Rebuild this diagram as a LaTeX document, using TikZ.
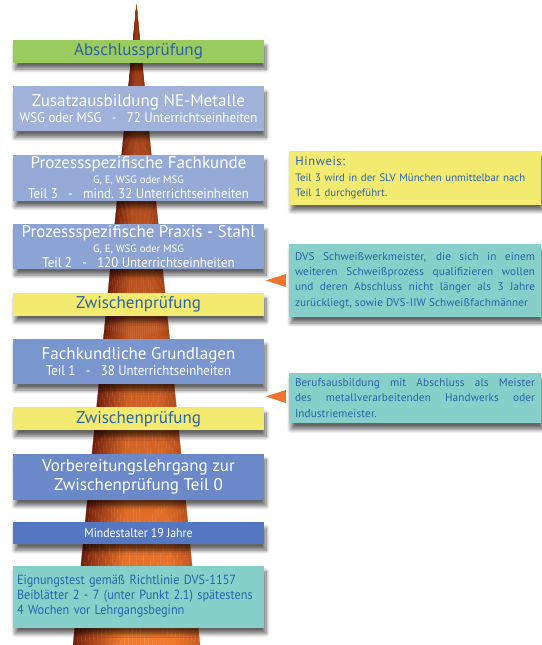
\documentclass[tikz,border=0pt]{standalone}
\usepackage{fontspec}
\setmainfont{PT Sans}
\newfontfamily\semifont[FakeStretch=0.92]{PT Sans}
\newfontfamily\headfamily[LetterSpace=5]{PT Sans}
\newfontfamily\widefamily[LetterSpace=1]{PT Sans}
\usetikzlibrary{
	positioning,
	calc,
	fadings,
	shadows.blur
}
\definecolor{examGreen}{HTML}{9BCB5F}
\definecolor{examYellow}{HTML}{F3EB70}
\definecolor{noteTeal}{HTML}{86D0C9}
\definecolor{textBlue}{HTML}{2B62AC}
\definecolor{stageA}{HTML}{A0B2DA}
\definecolor{stageB}{HTML}{95AAD7}
\definecolor{stageC}{HTML}{8CA3D3}
\definecolor{stageD}{HTML}{7A96CE}
\definecolor{stageE}{HTML}{6B89C8}
\definecolor{stageF}{HTML}{5577C1}
\definecolor{coneOrange}{HTML}{F47B2D}
\definecolor{coneBrown}{HTML}{6A1A0A}
\definecolor{pointerOrange}{HTML}{F07530}
\newcommand\titlefont{\fontsize{17}{19}\selectfont}
\newcommand\subfont{\fontsize{10.7}{12}\selectfont}
\newcommand\linefont{\semifont\fontsize{14}{15}\selectfont}
\newcommand\notefont{\fontsize{10.8}{15.3}\selectfont\hyphenpenalty=10000}
\newcommand\widenotefont{\widefamily\fontsize{11.2}{15.3}\selectfont\hyphenpenalty=10000}
\tikzfading[name=conetop, top color=transparent!30, bottom color=transparent!100]

\begin{document}
\begin{tikzpicture}[
		x=1pt, y=-1pt,
		node distance=23pt,
		stage/.style={minimum width=251pt, inner sep=1pt, align=center, text=white,
			font=\fontsize{14}{15}\selectfont,
			blur shadow={shadow xshift=2pt, shadow yshift=-6pt, shadow blur steps=8, shadow blur radius=4pt, shadow opacity=60}},
		exam/.style={stage, minimum height=23pt, text=textBlue, font=\titlefont},
		note/.style={text width=240pt, inner sep=6pt, text=textBlue, font=\notefont,
			blur shadow={shadow xshift=2pt, shadow yshift=-6pt, shadow blur steps=8, shadow blur radius=4pt, shadow opacity=60}},
		widenote/.style={note, align=justify, font=\widenotefont},
		pointer/.style={fill=pointerOrange}
		]
		\useasboundingbox (0,0) rectangle (541,645);
		
		% cone, darker on the left
		\coordinate (tip) at (136.5,5);
		\coordinate (baseL) at (73,645);
		\coordinate (baseR) at (200,645);
		\foreach \i in {0,...,31} {
			\pgfmathsetmacro\u{(\i+0.5)/32}
			\pgfmathsetmacro\p{\u<0.4 ? 100*(\u/0.4)^0.8 : (\u>0.8 ? 100-150*(\u-0.8) : 100)}
			\filldraw[coneOrange!\p!coneBrown, line width=0.2pt] (tip) -- ($(baseL)!{\i/32}!(baseR)$) -- ($(baseL)!{(\i+1)/32}!(baseR)$) -- cycle;
		}
		\fill[coneBrown, path fading=conetop] (tip) -- (baseL) -- (baseR) -- cycle;
		
		% stages
		\node[exam, fill=examGreen] (abschluss) at (138.5,51.5) {Abschlussprüfung};
		\node[stage, fill=stageA, minimum height=45pt, below=of abschluss] (zusatz) {
			{\titlefont Zusatzausbildung NE-Metalle}\\[1pt]
			{\linefont WSG oder MSG\ \ \ -\ \ \ 72 Unterrichtseinheiten}
		};
		\node[stage, fill=stageB, minimum height=46pt, below=of zusatz] (fachkunde) {
			{\titlefont Prozessspezifische Fachkunde}\\
			{\subfont G, E, WSG oder MSG}\\
			{\linefont Teil 3\ \ \ -\ \ \ mind. 32 Unterrichtseinheiten}
		};
		\node[stage, fill=stageC, minimum height=45pt, below=of fachkunde] (praxis) {
			{\titlefont Prozessspezifische Praxis - Stahl}\\
			{\subfont G, E, WSG oder MSG}\\
			{\linefont Teil 2\ \ \ -\ \ \ 120 Unterrichtseinheiten}
		};
		\node[exam, fill=examYellow, below=of praxis] (zwischenA) {Zwischenprüfung};
		\node[stage, fill=stageD, minimum height=45pt, below=of zwischenA] (grundlagen) {
			{\titlefont Fachkundliche Grundlagen}\\[1pt]
			{\linefont Teil 1\ \ \ -\ \ \ 38 Unterrichtseinheiten}
		};
		\node[exam, fill=examYellow, below=of grundlagen] (zwischenB) {Zwischenprüfung};
		\node[stage, fill=stageE, minimum height=46pt, below=of zwischenB, font=\fontsize{17}{19.5}\selectfont] (vorbereitung) {
			Vorbereitungslehrgang zur\\
			Zwischenprüfung Teil 0
		};
		\node[stage, fill=stageF, minimum height=22pt, below=22pt of vorbereitung, font=\semifont\fontsize{12.8}{14}\selectfont] (alter) {Mindestalter 19 Jahre};
		\node[stage, fill=noteTeal, minimum height=62pt, below=21pt of alter, text width=243pt, inner sep=4pt, align=left, text=textBlue, font=\semifont\fontsize{13.3}{15}\selectfont] (eignung) {
			Eignungstest gemäß Richtlinie DVS-1157\\
			Beiblätter 2 - 7 (unter Punkt 2.1) spätestens\\
			4 Wochen vor Lehrgangsbeginn
		};
		
		% notes
		\node[note, fill=examYellow, minimum height=46pt, align=left, right=25pt of fachkunde] (hinweis) {
			{\headfamily\fontsize{12.5}{15}\selectfont Hinweis:}\\
			Teil 3 wird in der SLV München unmittelbar nach\\
			Teil 1 durchgeführt.
		};
		\node[widenote, fill=noteTeal, minimum height=73pt] (dvs) at (415,280.5) {
			DVS Schweißwerkmeister, die sich in einem\linebreak
			weiteren Schweißprozess qualifizieren wollen\linebreak
			und deren Abschluss nicht länger als 3 Jahre\linebreak
			\mbox{zurückliegt, sowie DVS-IIW Schweißfachmänner}
		};
		\node[widenote, fill=noteTeal, minimum height=46pt] (beruf) at (415,398) {
			Berufsausbildung mit Abschluss als Meister\linebreak
			des metallverarbeitenden Handwerks oder\linebreak
			Industriemeister.
		};
		
		% pointers
		\coordinate (dvsTip) at ([xshift=-23pt]dvs.west);
		\coordinate (berufTip) at ([xshift=-23pt, yshift=1.5pt]beruf.west);
		\fill[pointer] (dvsTip) -- ++(20,-6.5) -- ++(0,13) -- cycle;
		\fill[pointer] (berufTip) -- ++(20,-6.5) -- ++(0,13) -- cycle;
		
	\end{tikzpicture}
\end{document}
